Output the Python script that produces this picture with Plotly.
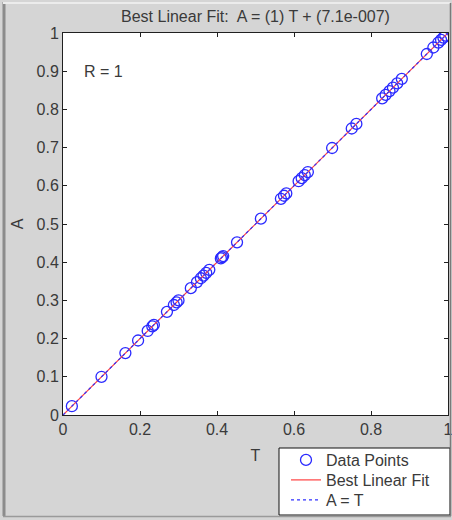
import plotly.graph_objects as go

# Data points (targets T, outputs A)
T_vals = [0.023, 0.100, 0.162, 0.195, 0.220, 0.232, 0.236, 0.270, 0.288, 0.295,
          0.300, 0.332, 0.348, 0.358, 0.365, 0.372, 0.380, 0.410, 0.413, 0.416,
          0.452, 0.514, 0.566, 0.574, 0.580, 0.612, 0.620, 0.628, 0.636, 0.699,
          0.750, 0.762, 0.829, 0.838, 0.848, 0.857, 0.868, 0.880, 0.945, 0.962,
          0.975, 0.982, 0.988, 0.993]
A_vals = [0.023, 0.100, 0.162, 0.195, 0.220, 0.232, 0.236, 0.270, 0.288, 0.295,
          0.300, 0.332, 0.348, 0.358, 0.365, 0.372, 0.380, 0.410, 0.413, 0.416,
          0.452, 0.514, 0.566, 0.574, 0.580, 0.612, 0.620, 0.628, 0.636, 0.699,
          0.750, 0.762, 0.829, 0.838, 0.848, 0.857, 0.868, 0.880, 0.945, 0.962,
          0.975, 0.982, 0.988, 0.993]
line_x = [0, 1]
fit_y = [0.0000007, 1.0000007]
ident_y = [0, 1]

x_ticks = [0, 0.2, 0.4, 0.6, 0.8, 1]
x_labels = ["0", "0.2", "0.4", "0.6", "0.8", "1"]
y_ticks = [0, 0.1, 0.2, 0.3, 0.4, 0.5, 0.6, 0.7, 0.8, 0.9, 1]
y_labels = ["0", "0.1", "0.2", "0.3", "0.4", "0.5", "0.6", "0.7", "0.8", "0.9", "1"]

title_text = "Best Linear Fit:  A = (1) T + (7.1e-007)"
r_text = "R = 1"

FONT = "Liberation Sans, Arial, sans-serif"
TXT = "#3a3a3a"

fig = go.Figure()
fig.add_trace(go.Scatter(
    x=T_vals, y=A_vals, mode="markers", name="Data Points", legend="legend",
    marker=dict(symbol="circle-open", size=11, color="#2a2aff",
                line=dict(width=1.3, color="#2a2aff")),
))
fig.add_trace(go.Scatter(
    x=line_x, y=fit_y, mode="lines", name="Best Linear Fit", legend="legend2",
    line=dict(color="#ff4040", width=1.2),
))
fig.add_trace(go.Scatter(
    x=line_x, y=ident_y, mode="lines", name="A = T", legend="legend3",
    line=dict(color="#3030ff", width=1.2, dash="3px,3px"),
))

L, R, Tm, B = 63, 4, 33, 105
W, H = 452, 520
pw = W - L - R
ph = H - Tm - B


def px(x):
    return (x - L) / pw


def py(y):
    return (H - B - y) / ph


axis_common = dict(
    showgrid=False, zeroline=False, showline=True, linecolor="#202020",
    linewidth=1, mirror="ticks", ticks="inside", ticklen=4, tickcolor="#202020",
    tickfont=dict(family=FONT, size=16, color=TXT), automargin=False,
    ticklabeloverflow="allow",
)


def legend_row(ycenter):
    return dict(xref="container", yref="container",
                x=286 / W, xanchor="left", y=1 - ycenter / H, yanchor="middle",
                bgcolor="rgba(0,0,0,0)", borderwidth=0,
                font=dict(family=FONT, size=16, color=TXT),
                itemwidth=30, tracegroupgap=0)


fig.update_layout(
    width=W, height=H,
    margin=dict(l=L, r=R, t=Tm, b=B, autoexpand=False),
    paper_bgcolor="#d5d5d5",
    plot_bgcolor="white",
    showlegend=True,
    title=dict(text=title_text, xref="paper", x=0.5, xanchor="center",
               yref="container", y=1 - 16 / H, yanchor="middle",
               font=dict(family=FONT, size=16, color=TXT)),
    xaxis=dict(range=[0, 1], tickvals=x_ticks, ticktext=x_labels,
               title=dict(text="T", font=dict(family=FONT, size=16, color=TXT), standoff=12),
               **axis_common),
    yaxis=dict(range=[0, 1], tickvals=y_ticks, ticktext=y_labels,
               title=dict(text="A", font=dict(family=FONT, size=16, color=TXT), standoff=8),
               **axis_common),
    legend=legend_row(460),
    legend2=legend_row(480),
    legend3=legend_row(500),
    annotations=[dict(x=0.05, y=0.9, xref="x", yref="y", text=r_text,
                      showarrow=False, xanchor="left", yanchor="middle",
                      font=dict(family=FONT, size=16, color=TXT))],
    shapes=[
        # legend box
        dict(type="rect", xref="paper", yref="paper", x0=px(279), x1=px(450),
             y0=py(448), y1=py(515), fillcolor="white",
             line=dict(color="#101010", width=1), layer="below"),
        # figure frame
        dict(type="line", xref="paper", yref="paper", x0=px(4), x1=px(4),
             y0=py(2), y1=py(516), line=dict(color="#8c8c8c", width=3)),
        dict(type="line", xref="paper", yref="paper", x0=px(3), x1=px(450),
             y0=py(3), y1=py(3), line=dict(color="#ececec", width=2)),
        dict(type="line", xref="paper", yref="paper", x0=px(450.5), x1=px(450.5),
             y0=py(3), y1=py(516), line=dict(color="#7a7a7a", width=1.5)),
        dict(type="line", xref="paper", yref="paper", x0=px(3), x1=px(451),
             y0=py(516.5), y1=py(516.5), line=dict(color="#9a9a9a", width=1.5)),
    ],
)

fig.write_html("out.html", config={"displayModeBar": False},
               post_script="document.body.style.margin='0';document.body.style.overflow='hidden';")
